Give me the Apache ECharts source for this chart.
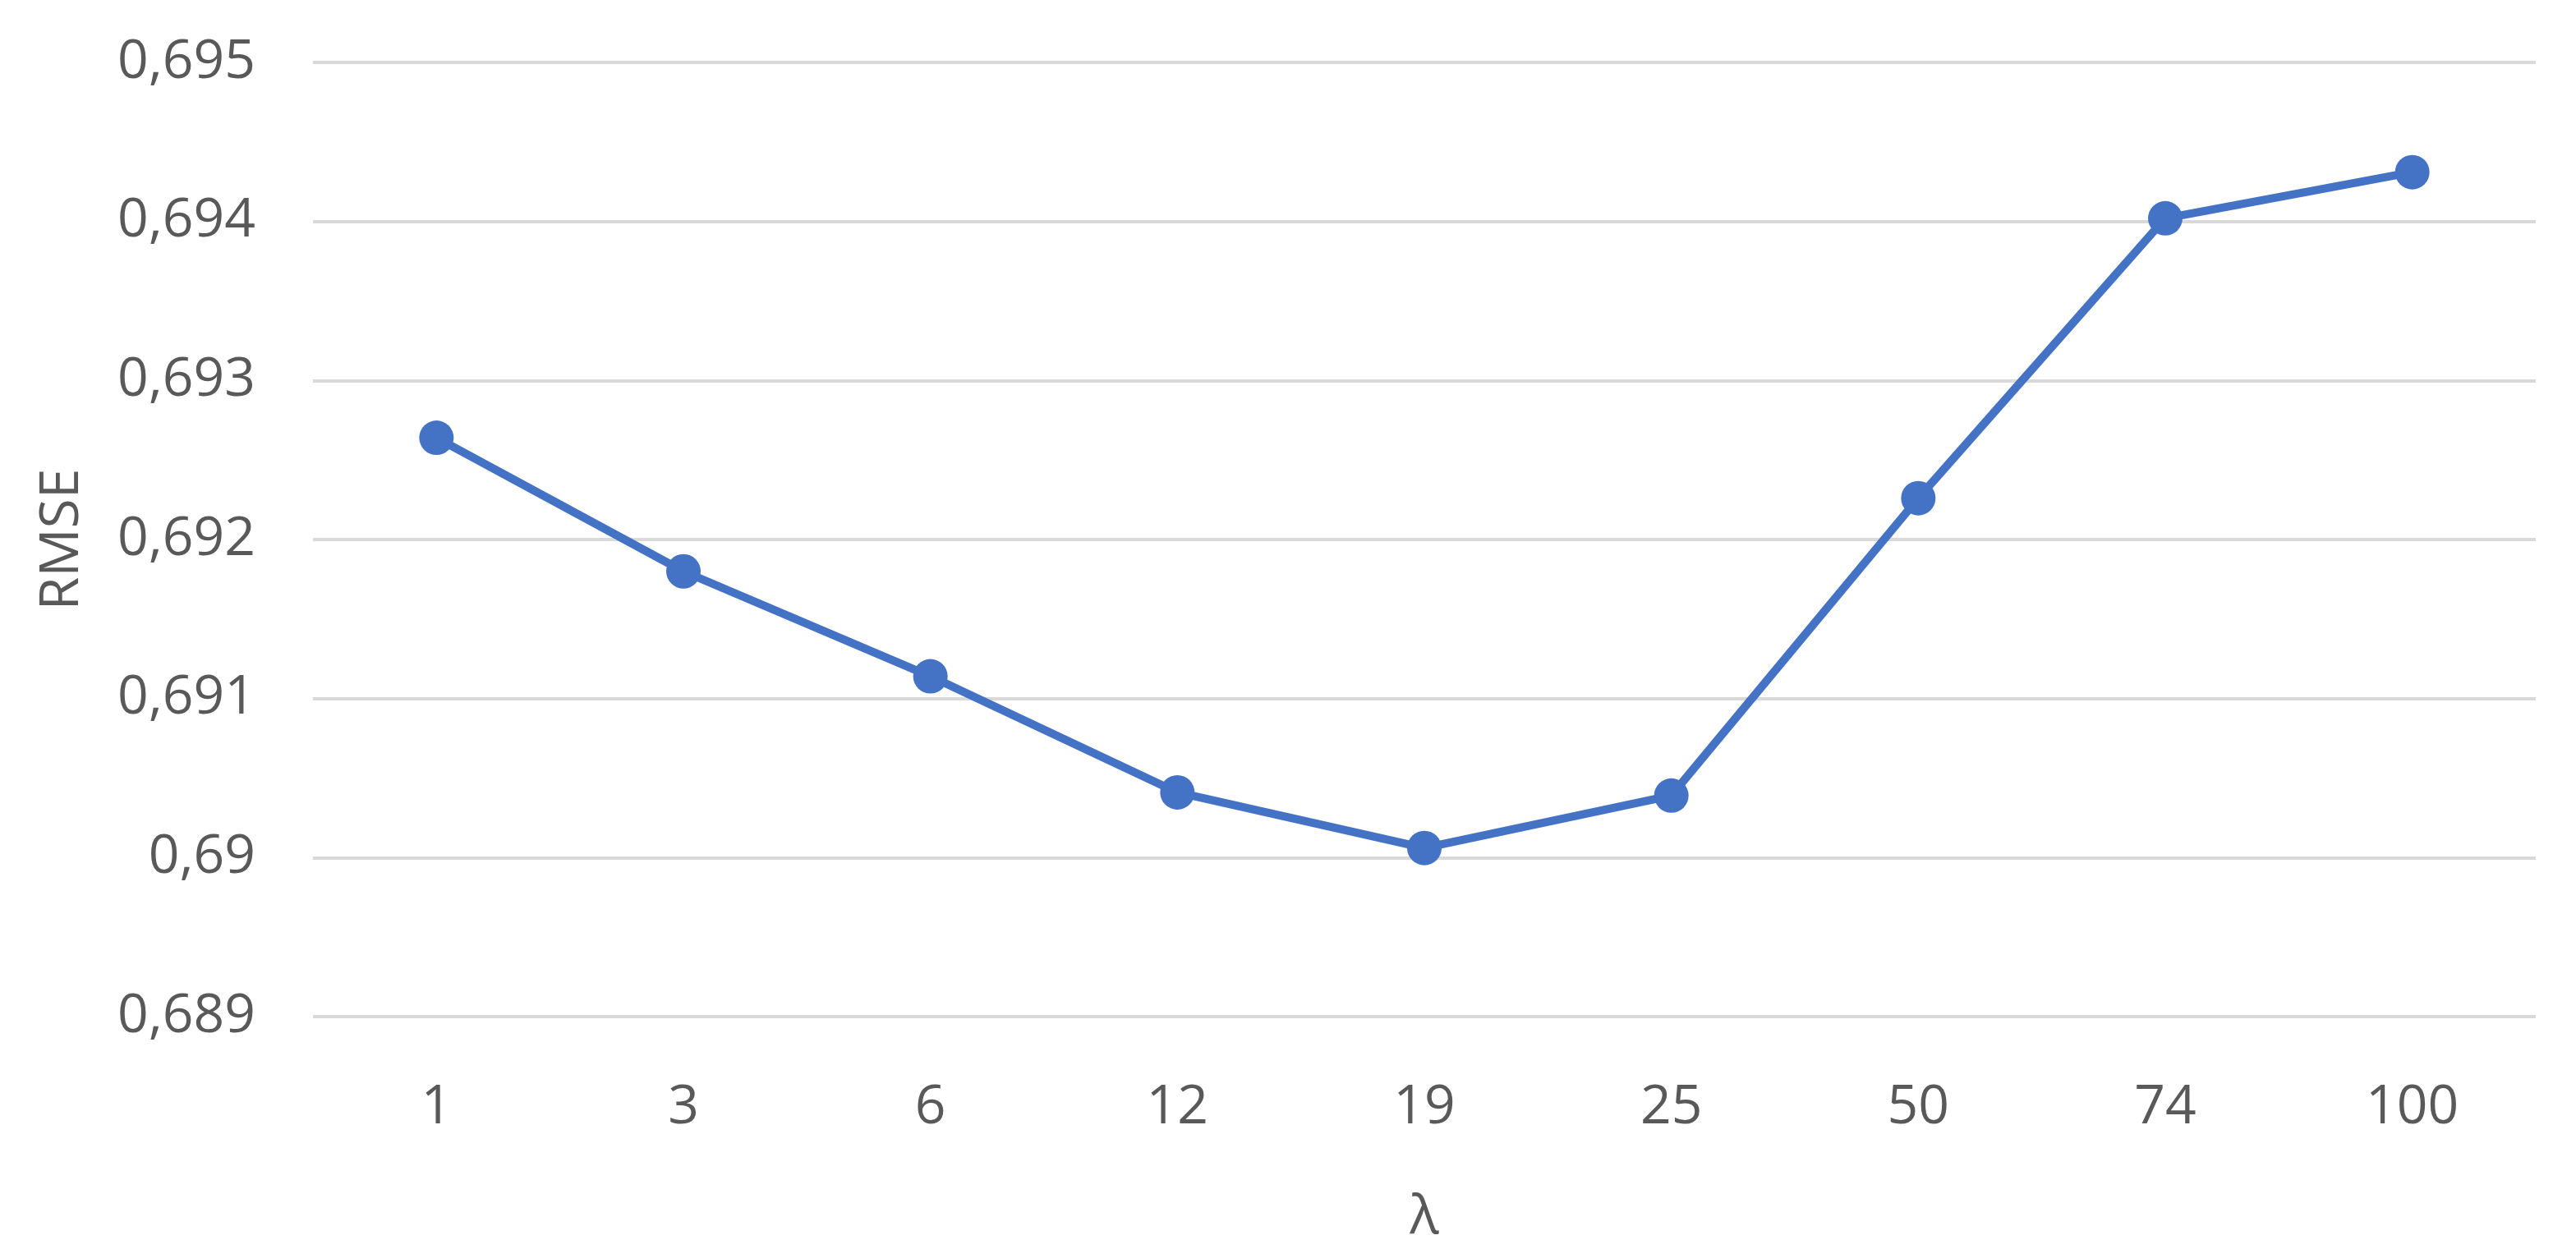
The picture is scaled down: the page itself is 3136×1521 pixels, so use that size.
<!DOCTYPE html>
<html>
<head>
<meta charset="utf-8">
<script src="https://cdn.jsdelivr.net/npm/echarts@6/dist/echarts.min.js"></script>
<style>
html,body{margin:0;padding:0;background:#fff;}
#chart{width:3136px;height:1521px;}
</style>
</head>
<body>
<div id="chart"></div>
<script>
const categories = ['1', '3', '6', '12', '19', '25', '50', '74', '100'];
const rmse = [0.69264, 0.69180, 0.69114, 0.69041, 0.69006, 0.69039, 0.69226, 0.69402, 0.69431];
const yMin = 0.689, yMax = 0.695, yStep = 0.001;

const fmt = v => String(parseFloat(v.toFixed(3))).replace('.', ',');
const chart = echarts.init(document.getElementById('chart'), null, {renderer: 'canvas'});
chart.setOption({
  animation: false,
  backgroundColor: '#ffffff',
  grid: {left: 381, right: 49, top: 76, bottom: 269, containLabel: false},
  xAxis: {
    type: 'category',
    data: categories,
    boundaryGap: true,
    name: 'λ',
    nameLocation: 'middle',
    nameGap: 212,
    nameTextStyle: {fontFamily: 'Open Sans', fontSize: 66, color: '#595959'},
    axisLine: {show: false},
    axisTick: {show: false},
    axisLabel: {fontFamily: 'Open Sans', fontSize: 66, color: '#595959', margin: 78}
  },
  yAxis: {
    type: 'value',
    min: yMin, max: yMax, interval: yStep,
    name: 'RMSE',
    nameLocation: 'middle',
    nameRotate: 90,
    nameGap: 272,
    nameTextStyle: {fontFamily: 'Open Sans', fontSize: 66, color: '#595959'},
    axisLine: {show: false},
    axisTick: {show: false},
    splitLine: {show: true, lineStyle: {color: '#d9d9d9', width: 4}},
    axisLabel: {fontFamily: 'Open Sans', fontSize: 66, color: '#595959', margin: 70, formatter: fmt}
  },
  series: [{
    type: 'line',
    data: rmse,
    symbol: 'circle',
    symbolSize: 42,
    itemStyle: {color: '#4472C4'},
    lineStyle: {color: '#4472C4', width: 10},
    z: 3
  }]
});
</script>
</body>
</html>
